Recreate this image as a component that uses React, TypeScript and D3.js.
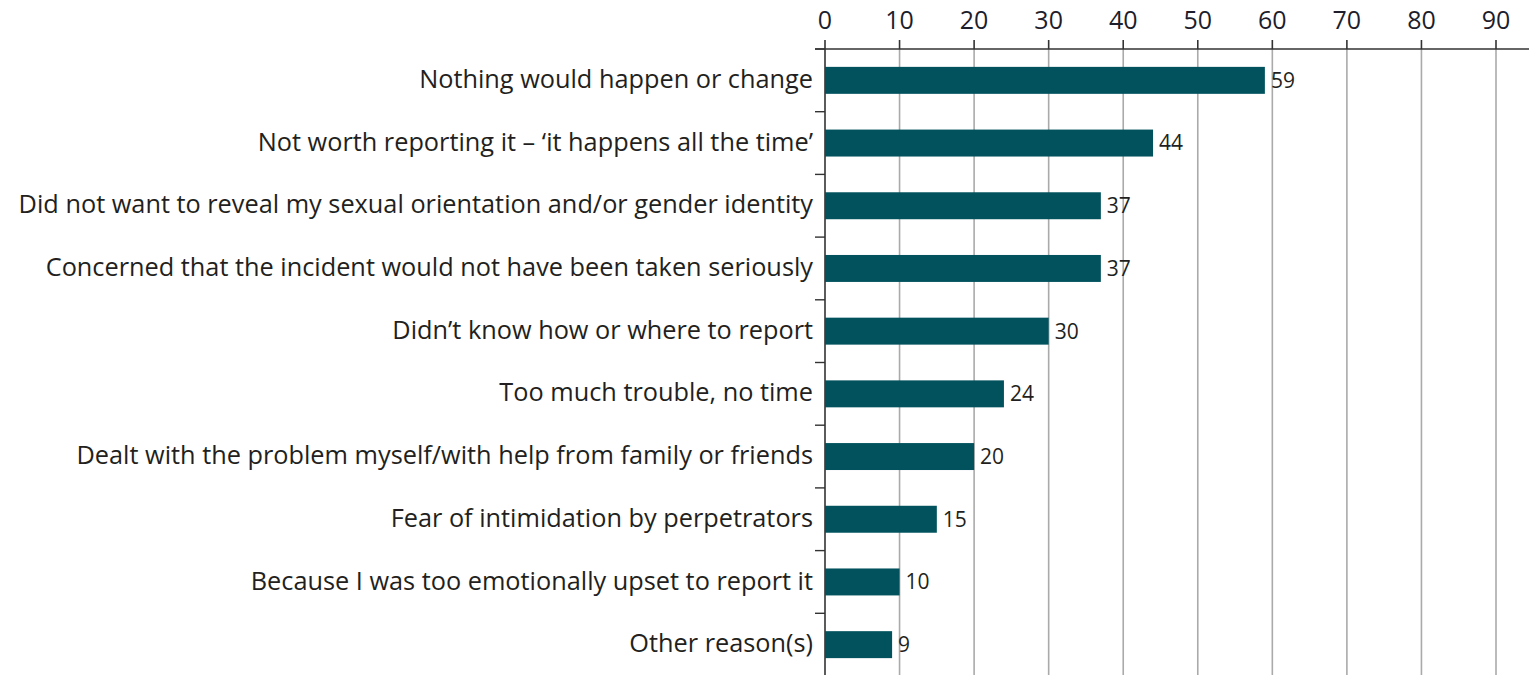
import React from "react";
import * as d3 from "d3";

const categories = [
  "Nothing would happen or change",
  "Not worth reporting it – ‘it happens all the time’",
  "Did not want to reveal my sexual orientation and/or gender identity",
  "Concerned that the incident would not have been taken seriously",
  "Didn’t know how or where to report",
  "Too much trouble, no time",
  "Dealt with the problem myself/with help from family or friends",
  "Fear of intimidation by perpetrators",
  "Because I was too emotionally upset to report it",
  "Other reason(s)",
];
const values = [59, 44, 37, 37, 30, 24, 20, 15, 10, 9];
const ticks = [0, 10, 20, 30, 40, 50, 60, 70, 80, 90];

const W = 1529;
const H = 675;
const FONT = "'Open Sans', sans-serif";

export default function App() {
  const x = d3.scaleLinear().domain([0, 90]).range([825, 1496]);
  const y = d3
    .scaleBand<string>()
    .domain(categories)
    .range([49, 676])
    .paddingInner(0.57)
    .paddingOuter(0.285);
  const step = y.step();
  const axisY = 49;
  return (
    <svg
      width={W}
      height={H}
      style={{ position: "absolute", left: 0, top: 0, background: "#fff" }}
    >
      {ticks.slice(1).map((t) => (
        <line key={"g" + t} x1={x(t)} x2={x(t)} y1={axisY} y2={H} stroke="#aaaaaa" strokeWidth={1.6} />
      ))}
      {ticks.map((t) => (
        <g key={"t" + t}>
          <line x1={x(t)} x2={x(t)} y1={axisY - 9} y2={axisY} stroke="#333" strokeWidth={1.6} />
          <text x={x(t)} y={29} textAnchor="middle" fontFamily={FONT} fontSize={25} fill="#1d1d2b">
            {t}
          </text>
        </g>
      ))}
      <line x1={815} x2={W} y1={axisY} y2={axisY} stroke="#333" strokeWidth={1.6} />
      <line x1={x(0)} x2={x(0)} y1={axisY} y2={H} stroke="#333" strokeWidth={1.6} />
      {categories.map((c, i) => (
        <line
          key={"s" + i}
          x1={815}
          x2={x(0)}
          y1={(y(c) as number) - (step - y.bandwidth()) / 2}
          y2={(y(c) as number) - (step - y.bandwidth()) / 2}
          stroke="#333"
          strokeWidth={1.4}
        />
      ))}
      {categories.map((c, i) => {
        const cy = (y(c) as number) + y.bandwidth() / 2;
        return (
          <g key={"b" + i}>
            <rect
              x={x(0)}
              y={y(c)}
              width={x(values[i]) - x(0)}
              height={y.bandwidth()}
              fill="#01525d"
            />
            <text
              x={813}
              y={cy}
              dy="0.3em"
              textAnchor="end"
              fontFamily={FONT}
              fontSize={25.3}
              fill="#231f20"
            >
              {c}
            </text>
            <text
              x={x(values[i]) + 6}
              y={cy}
              dy="0.35em"
              fontFamily={FONT}
              fontSize={21}
              fill="#231f20"
            >
              {values[i]}
            </text>
          </g>
        );
      })}
    </svg>
  );
}
